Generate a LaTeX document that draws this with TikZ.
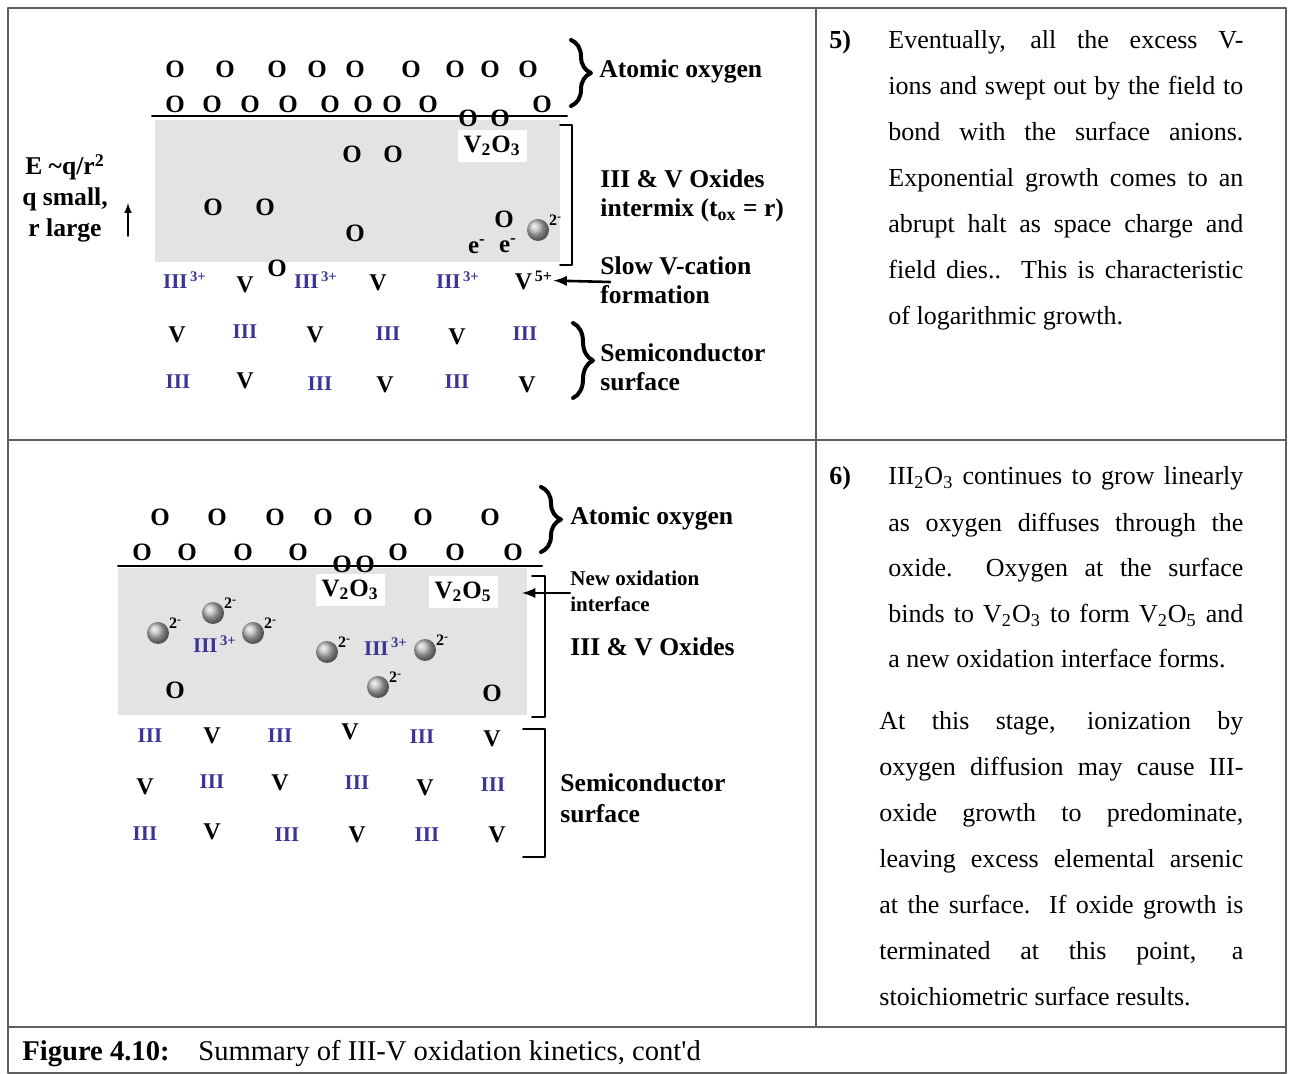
\documentclass[tikz,border=0pt]{standalone}
\usepackage{fontspec}
\setmainfont{Liberation Serif}
\usepackage{xcolor}
\usepackage{tikz}
\tikzset{>=latex}
\usetikzlibrary{arrows}
\usetikzlibrary{decorations.pathreplacing}
\definecolor{iiiblue}{RGB}{58,52,150}
\definecolor{framegray}{RGB}{95,95,95}
\tikzset{
  ox/.style={font=\bfseries\fontsize{12.5}{12.5}\selectfont, inner sep=0pt},
  vion/.style={font=\bfseries\fontsize{12}{12}\selectfont, inner sep=0pt, anchor=base},
  iiion/.style={font=\bfseries\fontsize{10.5}{10.5}\selectfont, text=iiiblue, inner sep=0pt, anchor=base},
  lbl/.style={font=\bfseries\fontsize{12.8}{14}\selectfont, anchor=base west, inner sep=0pt},
  smalllbl/.style={font=\bfseries\fontsize{10.5}{12}\selectfont, anchor=base west, inner sep=0pt},
  txt/.style={font=\fontsize{13}{13}\selectfont, anchor=base west, inner sep=0pt},
  oxide/.style={fill=black!11, draw=none},
  ion/.style={circle, minimum size=11pt, inner sep=0pt, shading=ball, ball color=black!28},
  chg/.style={font=\bfseries\fontsize{8}{8}\selectfont, inner sep=0pt},
  bigbrace/.style={decorate, decoration={brace, amplitude=10pt}, line width=2pt},
  bracket/.style={line width=0.9pt},
}

\begin{document}
\begin{tikzpicture}[x=0.5pt,y=-0.5pt,line cap=round,line join=round]
  \useasboundingbox (0,0) rectangle (1290,1074);
  % table frame
  \draw[framegray, line width=1pt] (8,8) rectangle (1286,1073);
  \draw[framegray, line width=1pt] (816,8) -- (816,1027);
  \draw[framegray, line width=1pt] (8,440) -- (1286,440);
  \draw[framegray, line width=1pt] (8,1027) -- (1286,1027);

  %%%%% step 5: oxide layer with field
  \fill[oxide] (155,120) rectangle (560,262);
  \draw[line width=1pt] (152,116) -- (567,116);
  \draw[bracket] (560,125) -- (572,125) -- (572,265) -- (560,265);
  \foreach \x [count=\i] in {175,225,277,317,355,411,455,490,528}
    \node[ox] (oa\i) at (\x,69) {O};
  \foreach \x [count=\i] in {175,212,250,288,330,363,392,428,542}
    \node[ox] (ob\i) at (\x,104) {O};
  \node[ox] (oc1) at (468,118) {O};
  \node[ox] (oc2) at (500,118) {O};
  \node[ox, fill=white, inner sep=3pt] (vtwoa) at (492,146) {V\textsubscript{2}O\textsubscript{3}};
  \foreach \x/\y [count=\i] in {352/154,393/154,213/207,265/207,355/233,504/219,277/268}
    \node[ox] (od\i) at (\x,\y) {O};
  \node[ox] (ea) at (477,247) {e\textsuperscript{-}};
  \node[ox] (eb) at (508,246) {e\textsuperscript{-}};
  \node[ion, label={[chg]20:2\textsuperscript{-}}] (sa) at (538,230) {};
  \draw[bigbrace] (571,40) -- (571,106);
  \node[lbl] (atoma) at (599,78) {Atomic oxygen};
  \node[lbl] (mixa) at (600,188) {III \& V Oxides};
  \node[lbl] (mixb) at (600,217) {intermix (t\textsubscript{ox} = r)};
  % field strength
  \node[lbl, anchor=base] (ef1) at (65,175) {E \textasciitilde q/r\textsuperscript{2}};
  \node[lbl, anchor=base] (ef2) at (65,206) {q small,};
  \node[lbl, anchor=base] (ef3) at (65,237) {r large};
  \coordinate (ftail) at (128,236);
  \coordinate (fhead) at (128,203);
  \draw[->, line width=0.7pt] (ftail) -- (fhead);
  % cations under the oxide
  \foreach \x [count=\i] in {185,316,458}
    \node[iiion] (ca\i) at (\x,289) {III\textsuperscript{\,3+}};
  \node[vion] (va1) at (245,293) {V};
  \node[vion] (va2) at (378,291) {V};
  \node[vion] (vfive) at (534,290) {V\textsuperscript{\,5+}};
  \coordinate (slowtail) at (610,282);
  \draw[->, line width=1.3pt] (slowtail) -- (vfive.east);
  \node[lbl] (slowa) at (600,275) {Slow V-cation};
  \node[lbl] (slowb) at (600,304) {formation};
  % semiconductor
  \foreach \x/\y [count=\i] in {177/343,315/343,457/345}
    \node[vion] (vb\i) at (\x,\y) {V};
  \foreach \x/\y [count=\i] in {245/339,388/341,525/341}
    \node[iiion] (cb\i) at (\x,\y) {III};
  \foreach \x/\y [count=\i] in {178/389,320/391,457/389}
    \node[iiion] (cc\i) at (\x,\y) {III};
  \foreach \x/\y [count=\i] in {245/389,385/393,527/393}
    \node[vion] (vc\i) at (\x,\y) {V};
  \draw[bigbrace] (573,323) -- (573,398);
  \node[lbl] (semia) at (600,362) {Semiconductor};
  \node[lbl] (semib) at (600,391) {surface};

  % text of step 5
  \node[txt, font=\bfseries\fontsize{13}{13}\selectfont] (n5) at (829,49) {5)};
  \node[txt] (p5a) at (888,49) {\makebox[177.5pt][s]{Eventually, all the excess V-}};
  \node[txt] (p5b) at (888,95) {\makebox[177.5pt][s]{ions and swept out by the field to}};
  \node[txt] (p5c) at (888,141) {\makebox[177.5pt][s]{bond with the surface anions.}};
  \node[txt] (p5d) at (888,187) {\makebox[177.5pt][s]{Exponential growth comes to an}};
  \node[txt] (p5e) at (888,233) {\makebox[177.5pt][s]{abrupt halt as space charge and}};
  \node[txt] (p5f) at (888,279) {\makebox[177.5pt][s]{field dies..\ \ This is characteristic}};
  \node[txt] (p5g) at (888,325) {of logarithmic growth.};

  %%%%% step 6: new oxidation interface
  \fill[oxide] (118,568) rectangle (527,715);
  \draw[line width=1pt] (118,566) -- (542,566);
  \draw[bracket] (532,576) -- (545,576) -- (545,717) -- (532,717);
  \draw[bracket] (523,729) -- (545,729) -- (545,857) -- (523,857);
  \foreach \x [count=\i] in {160,217,275,323,363,423,490}
    \node[ox] (oe\i) at (\x,517) {O};
  \foreach \x [count=\i] in {142,187,243,298,398,455,513}
    \node[ox] (of\i) at (\x,552) {O};
  \node[ox] (og1) at (342,564) {O};
  \node[ox] (og2) at (365,564) {O};
  \node[ox, fill=white, inner sep=3pt] (vtwob) at (350,590) {V\textsubscript{2}O\textsubscript{3}};
  \node[ox, fill=white, inner sep=3pt] (vfiveb) at (463,592) {V\textsubscript{2}O\textsubscript{5}};
  \foreach \x/\y [count=\i] in {158/633,213/613,253/633,327/652,425/650,378/687}
    \node[ion, label={[chg]20:2\textsuperscript{-}}] (sb\i) at (\x,\y) {};
  \node[iiion] (cd1) at (215,653) {III\textsuperscript{\,3+}};
  \node[iiion] (cd2) at (386,655) {III\textsuperscript{\,3+}};
  \node[ox] (oh1) at (175,690) {O};
  \node[ox] (oh2) at (492,693) {O};
  \draw[bigbrace] (541,487) -- (541,552);
  \node[lbl] (atomb) at (570,525) {Atomic oxygen};
  \coordinate (newtail) at (570,593);
  \coordinate (newhead) at (522,593);
  \draw[->, line width=1.3pt] (newtail) -- (newhead);
  \node[smalllbl] (newa) at (570,586) {New oxidation};
  \node[smalllbl] (newb) at (570,611) {interface};
  \node[lbl] (mixc) at (570,655) {III \& V Oxides};
  % semiconductor
  \foreach \x/\y [count=\i] in {150/742,280/742,422/743}
    \node[iiion] (ce\i) at (\x,\y) {III};
  \foreach \x/\y [count=\i] in {212/743,350/739,492/746}
    \node[vion] (ve\i) at (\x,\y) {V};
  \foreach \x/\y [count=\i] in {145/794,280/790,425/795}
    \node[vion] (vf\i) at (\x,\y) {V};
  \foreach \x/\y [count=\i] in {212/788,357/789,493/791}
    \node[iiion] (cf\i) at (\x,\y) {III};
  \foreach \x/\y [count=\i] in {145/840,287/841,427/841}
    \node[iiion] (cg\i) at (\x,\y) {III};
  \foreach \x/\y [count=\i] in {212/839,357/842,497/842}
    \node[vion] (vg\i) at (\x,\y) {V};
  \node[lbl] (semic) at (560,791) {Semiconductor};
  \node[lbl] (semid) at (560,822) {surface};

  % text of step 6
  \node[txt, font=\bfseries\fontsize{13}{13}\selectfont] (n6) at (829,485) {6)};
  \node[txt] (p6a) at (888,485) {\makebox[177.5pt][s]{III\textsubscript{2}O\textsubscript{3} continues to grow linearly}};
  \node[txt] (p6b) at (888,531) {\makebox[177.5pt][s]{as oxygen diffuses through the}};
  \node[txt] (p6c) at (888,577) {\makebox[177.5pt][s]{oxide.\ \ Oxygen at the surface}};
  \node[txt] (p6d) at (888,623) {\makebox[177.5pt][s]{binds to V\textsubscript{2}O\textsubscript{3} to form V\textsubscript{2}O\textsubscript{5} and}};
  \node[txt] (p6e) at (888,667) {a new oxidation interface forms.};
  \node[txt] (p7a) at (879,729) {\makebox[182pt][s]{At this stage, ionization by}};
  \node[txt] (p7b) at (879,775) {\makebox[182pt][s]{oxygen diffusion may cause III-}};
  \node[txt] (p7c) at (879,821) {\makebox[182pt][s]{oxide growth to predominate,}};
  \node[txt] (p7d) at (879,867) {\makebox[182pt][s]{leaving excess elemental arsenic}};
  \node[txt] (p7e) at (879,913) {\makebox[182pt][s]{at the surface.\ \ If oxide growth is}};
  \node[txt] (p7f) at (879,959) {\makebox[182pt][s]{terminated at this point, a}};
  \node[txt] (p7g) at (879,1005) {stoichiometric surface results.};

  % caption
  \node[txt, font=\bfseries\fontsize{14.3}{14.3}\selectfont] (capa) at (22,1060) {Figure 4.10:};
  \node[txt, font=\fontsize{14.3}{14.3}\selectfont] (capb) at (198,1060) {Summary of III-V oxidation kinetics, cont\textquotesingle d};
\end{tikzpicture}
\end{document}
